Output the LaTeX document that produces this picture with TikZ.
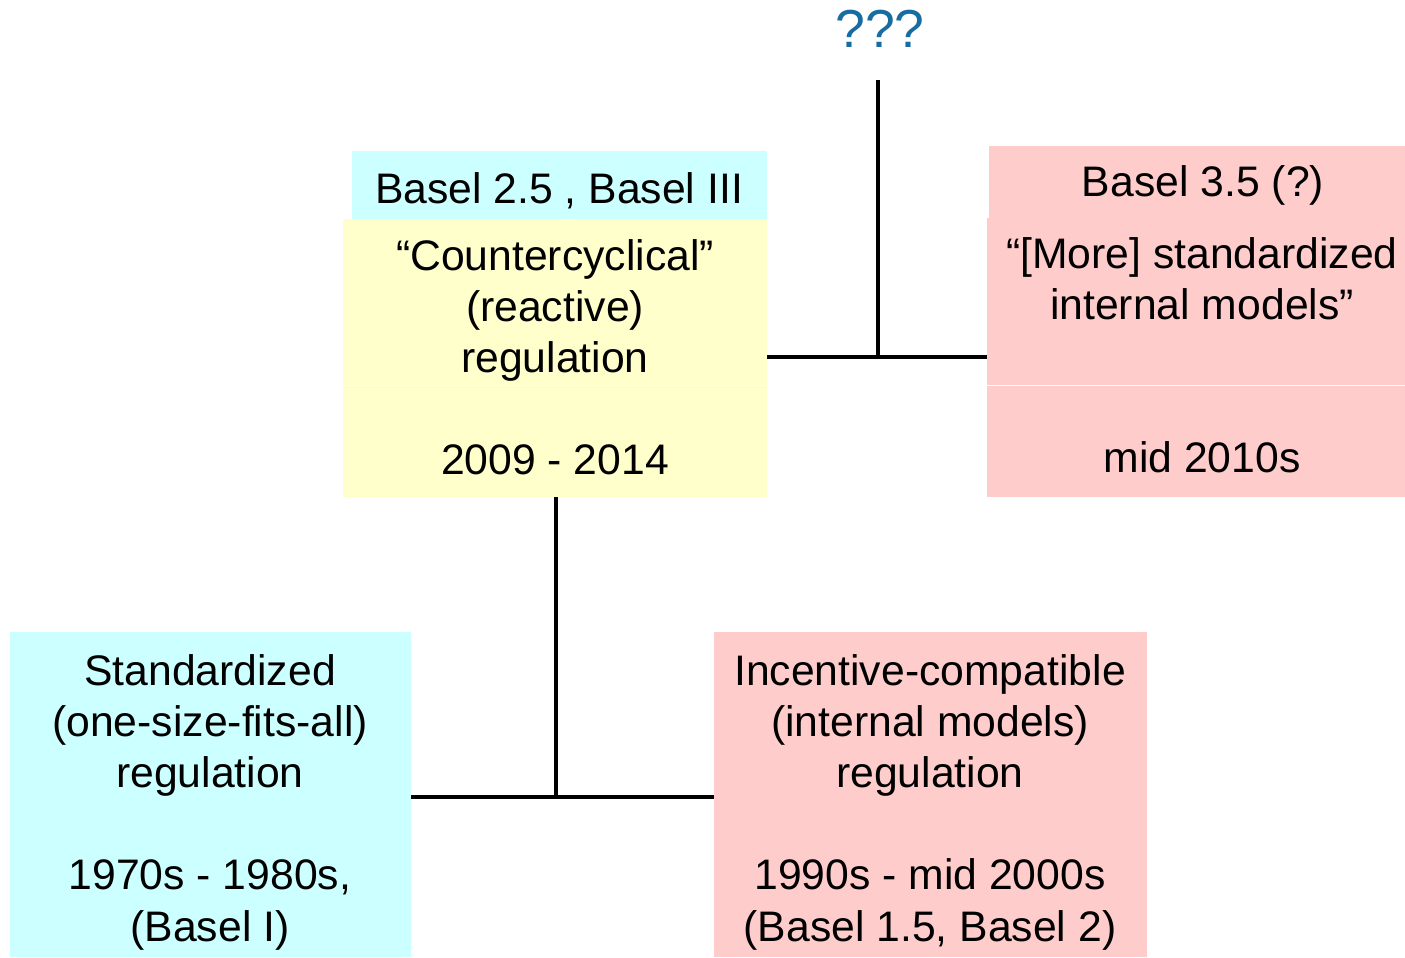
\documentclass[tikz,border=0pt]{standalone}
\usepackage{fontspec}
\setmainfont{Liberation Sans}
\definecolor{paleCyan}{HTML}{CCFFFF}
\definecolor{paleYellow}{HTML}{FFFFCC}
\definecolor{palePink}{HTML}{FFCCCC}
\definecolor{askBlue}{HTML}{176CA2}
% centred lines whose baseline is that of the first line
\newcommand\boxlines[1]{\begin{tabular}[t]{@{}c@{}}#1\end{tabular}}
\tikzset{
  panel/.style={draw=none, inner sep=0pt, outer sep=0pt, rectangle},
  lbl/.style={font=\fontsize{42.7}{51.2}\selectfont, inner sep=0pt, anchor=base},
  link/.style={line width=4.5pt, black}
}
\begin{document}
\begin{tikzpicture}[x=1pt, y=-1pt]
\useasboundingbox (0,0) rectangle (1405,958);

% coloured panels
\node[panel, fill=paleCyan,   minimum width=415pt, minimum height=68pt]  (b25head) at (559.5,185)   {};
\node[panel, fill=paleYellow, minimum width=424pt, minimum height=166pt] (ccup)    at (555,302)     {};
\node[panel, fill=paleYellow, minimum width=424pt, minimum height=111pt] (cclow)   at (555,441.5)   {};
\node[panel, fill=palePink,   minimum width=416pt, minimum height=72pt]  (b35head) at (1197,182)    {};
\node[panel, fill=palePink,   minimum width=418pt, minimum height=167pt] (smup)    at (1196,301.5)  {};
\node[panel, fill=palePink,   minimum width=418pt, minimum height=111pt] (smlow)   at (1196,441.5)  {};
\node[panel, fill=paleCyan,   minimum width=401pt, minimum height=325pt] (std)     at (210.5,794.5) {};
\node[panel, fill=palePink,   minimum width=433pt, minimum height=325pt] (icr)     at (930.5,794.5) {};

% texts
\node[lbl] (b25text) at (559,203) {Basel 2.5 , Basel III};
\node[lbl] (cctext)  at (555,270) {\boxlines{“Countercyclical”\\(reactive)\\regulation\\ \\2009 - 2014}};
\node[lbl] (b35text) at (1203,196) {Basel 3.5 (?)};
\node[lbl] (smtext)  at (1202,268) {\boxlines{“[More] standardized\\internal models”\\ \\ \\mid 2010s}};
\node[lbl] (stdtext) at (210,685) {\boxlines{Standardized\\(one-size-fits-all)\\regulation\\ \\1970s - 1980s,\\(Basel I)}};
\node[lbl] (icrtext) at (930,685) {\boxlines{Incentive-compatible\\(internal models)\\regulation\\ \\1990s - mid 2000s\\(Basel 1.5, Basel 2)}};
\node[inner sep=0pt, anchor=base, font=\fontsize{53.5}{64}\selectfont, text=askBlue] (ask) at (880,48) {???};

% connectors
\coordinate (jlow) at (556,797);
\coordinate (jtop) at (878,357);
\coordinate (asktail) at (878,80);
\draw[link] (cclow.south -| jlow) -- (jlow);
\draw[link] (std.east |- jlow) -- (icr.west |- jlow);
\draw[link] (asktail) -- (jtop);
\draw[link] (ccup.east |- jtop) -- (smup.west |- jtop);
\end{tikzpicture}
\end{document}
